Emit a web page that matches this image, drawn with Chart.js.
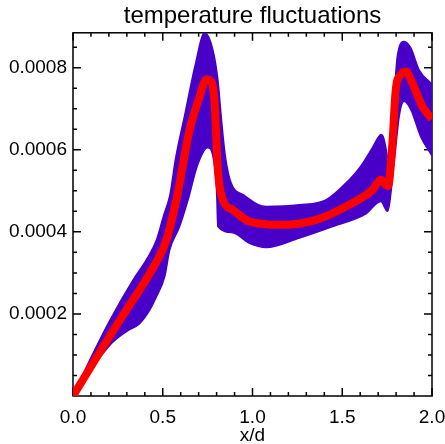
<!DOCTYPE html>
<html>
<head>
<meta charset="utf-8">
<script src="https://cdn.jsdelivr.net/npm/chart.js@4/dist/chart.umd.min.js"></script>
<style>
  body { margin: 0; background: #fff; }
  #wrap { width: 445px; height: 444px; }
</style>
</head>
<body>
<div id="wrap"><canvas id="chart" width="445" height="444"></canvas></div>
<script>
// mean profile (red)
const meanX = [0, 0.168, 0.298, 0.428, 0.52, 0.576, 0.65, 0.706, 0.743, 0.772, 0.789, 0.807, 0.835, 0.889, 0.983, 1.168, 1.354, 1.539, 1.668, 1.715, 1.755, 1.78, 1.798, 1.826, 1.854, 1.89, 1.946, 2.0];
const meanY = [0, 0.000120, 0.000210, 0.000299, 0.000380, 0.000478, 0.000649, 0.000730, 0.000772, 0.000765, 0.000714, 0.000551, 0.000478, 0.000454, 0.000425, 0.000417, 0.000429, 0.000466, 0.000502, 0.000527, 0.000511, 0.000620, 0.000746, 0.000783, 0.000791, 0.000763, 0.000706, 0.000675];

// highest ensemble member envelope (purple)
const upperX = [0, 0.094, 0.206, 0.335, 0.409, 0.465, 0.505, 0.54, 0.572, 0.625, 0.68, 0.733, 0.779, 0.807, 0.83, 0.85, 0.88, 0.95, 1.076, 1.261, 1.409, 1.539, 1.60, 1.668, 1.70, 1.715, 1.73, 1.745, 1.757, 1.772, 1.789, 1.807, 1.844, 1.882, 1.928, 2.0];
const upperY = [0, 0.000088, 0.000185, 0.000283, 0.000332, 0.000380, 0.000440, 0.000490, 0.000580, 0.000690, 0.000805, 0.000885, 0.000844, 0.000771, 0.000660, 0.000580, 0.000520, 0.000490, 0.000462, 0.000466, 0.000478, 0.000527, 0.000558, 0.000605, 0.000630, 0.000637, 0.000630, 0.000600, 0.000570, 0.000625, 0.000730, 0.000828, 0.000864, 0.000848, 0.000795, 0.000760];

// lowest ensemble member envelope (purple)
const lowerX = [0, 0.094, 0.168, 0.224, 0.298, 0.372, 0.428, 0.465, 0.511, 0.539, 0.594, 0.641, 0.694, 0.75, 0.783, 0.80, 0.807, 0.889, 0.983, 1.076, 1.261, 1.446, 1.632, 1.715, 1.752, 1.789, 1.817, 1.844, 1.882, 1.937, 2.0];
const lowerY = [0, 0.000063, 0.000104, 0.000132, 0.000157, 0.000177, 0.000210, 0.000242, 0.000291, 0.000356, 0.000413, 0.000478, 0.000563, 0.000605, 0.000576, 0.000500, 0.000413, 0.000398, 0.000372, 0.000362, 0.000385, 0.000413, 0.000444, 0.000474, 0.000450, 0.000568, 0.000681, 0.000718, 0.000698, 0.000632, 0.000585];

const xMajorTicks = [0, 0.5, 1.0, 1.5, 2.0];
const xMinorTicks = [0.1, 0.2, 0.3, 0.4, 0.6, 0.7, 0.8, 0.9, 1.1, 1.2, 1.3, 1.4, 1.6, 1.7, 1.8, 1.9];
const yMajorTicks = [0.0002, 0.0004, 0.0006, 0.0008];
const yMinorTicks = [0.00005, 0.0001, 0.00015, 0.00025, 0.0003, 0.00035, 0.00045, 0.0005, 0.00055, 0.00065, 0.0007, 0.00075, 0.00085];
const yTop = 0.000885;

const purple = '#4800c8';
const toPoints = (xs, ys) => xs.map((x, i) => ({ x: x, y: ys[i] }));
const allTicks = (a, b) => a.concat(b).sort((p, q) => p - q).map(v => ({ value: v }));

// ticks pointing into the plot on all four sides, plus the frame
const innerTicks = {
  id: 'innerTicks',
  beforeDatasetsDraw(chart) {
    const { ctx, chartArea: a, scales: { x, y } } = chart;
    ctx.save();
    ctx.strokeStyle = '#000';
    ctx.lineWidth = 1.5;
    ctx.strokeRect(a.left, a.top, a.right - a.left, a.bottom - a.top);
    ctx.beginPath();
    x.ticks.forEach(t => {
      const px = x.getPixelForValue(t.value);
      const len = xMajorTicks.includes(t.value) ? 8 : 4;
      ctx.moveTo(px, a.bottom); ctx.lineTo(px, a.bottom - len);
      ctx.moveTo(px, a.top); ctx.lineTo(px, a.top + len);
    });
    y.ticks.forEach(t => {
      const py = y.getPixelForValue(t.value);
      const len = yMajorTicks.includes(t.value) ? 8 : 4;
      ctx.moveTo(a.left, py); ctx.lineTo(a.left + len, py);
      ctx.moveTo(a.right, py); ctx.lineTo(a.right - len, py);
    });
    ctx.stroke();
    ctx.restore();
  }
};

const font = { family: 'Liberation Sans, Arial, sans-serif', size: 19 };

new Chart(document.getElementById('chart'), {
  type: 'line',
  data: {
    datasets: [
      {
        label: 'mean',
        data: toPoints(meanX, meanY),
        borderColor: '#ff0000',
        borderWidth: 8,
        fill: false
      },
      {
        label: 'upper',
        data: toPoints(upperX, upperY),
        borderColor: purple,
        borderWidth: 1.5,
        fill: false
      },
      {
        label: 'lower',
        data: toPoints(lowerX, lowerY),
        borderColor: purple,
        borderWidth: 1.5,
        backgroundColor: purple,
        fill: '-1'
      }
    ]
  },
  options: {
    responsive: false,
    animation: false,
    events: [],
    layout: { padding: { left: 0, right: 13, top: 0, bottom: 0 } },
    elements: {
      point: { radius: 0 },
      line: { cubicInterpolationMode: 'monotone', borderCapStyle: 'butt' }
    },
    plugins: {
      legend: { display: false },
      tooltip: { enabled: false },
      title: {
        display: true,
        fullSize: false,
        text: 'temperature fluctuations',
        color: '#000',
        font: { family: font.family, size: 24, weight: 'normal', lineHeight: 1.2 },
        padding: { top: 2, bottom: 2 }
      }
    },
    scales: {
      x: {
        type: 'linear',
        min: 0,
        max: 2,
        afterBuildTicks: s => { s.ticks = allTicks(xMajorTicks, xMinorTicks); },
        afterFit: s => { s.height = 48; s.paddingLeft = 0; s.paddingRight = 0; },
        grid: { display: false, drawTicks: false, tickLength: 0 },
        border: { display: false },
        ticks: {
          autoSkip: false,
          maxRotation: 0,
          padding: 10,
          color: '#000',
          font: font,
          callback: v => xMajorTicks.includes(v) ? v.toFixed(1) : ''
        },
        title: {
          display: true,
          text: 'x/d',
          color: '#000',
          font: { family: font.family, size: 19, lineHeight: 0.85 },
          padding: { top: 0, bottom: 0 }
        }
      },
      y: {
        type: 'linear',
        min: 0,
        max: yTop,
        afterBuildTicks: s => { s.ticks = allTicks(yMajorTicks, yMinorTicks); },
        afterFit: s => { s.width = 73; },
        grid: { display: false, drawTicks: false, tickLength: 0 },
        border: { display: false },
        ticks: {
          autoSkip: false,
          padding: 6,
          color: '#000',
          font: font,
          callback: v => yMajorTicks.includes(v) ? v.toFixed(4) : ''
        }
      }
    }
  },
  plugins: [innerTicks]
});
</script>
</body>
</html>
